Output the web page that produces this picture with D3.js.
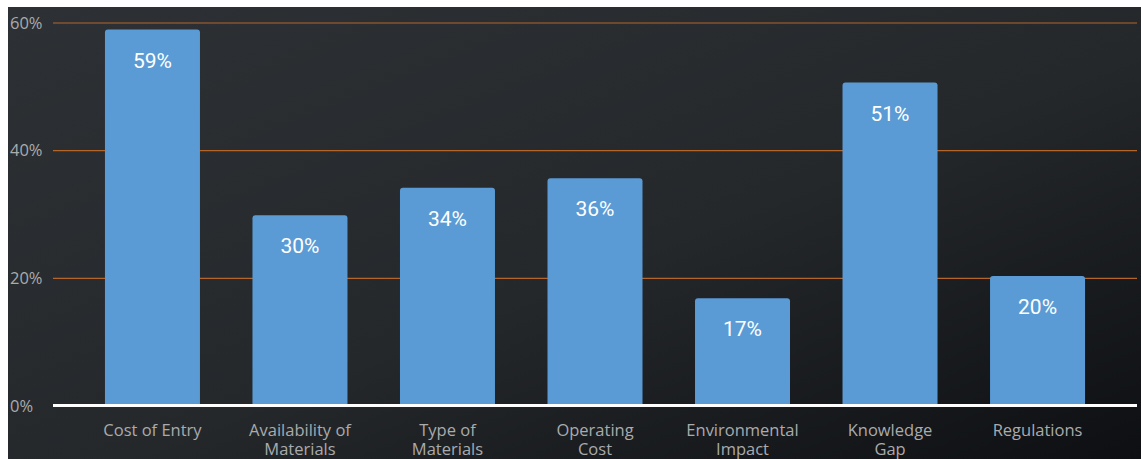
<!DOCTYPE html>
<html>
<head>
<meta charset="utf-8">
<script src="https://cdn.jsdelivr.net/npm/d3@7"></script>
<style>
  html, body { margin: 0; padding: 0; background: #ffffff; }
  svg { display: block; }
</style>
</head>
<body>
<svg id="chart" width="1141" height="459"></svg>
<script>
const categories = ["Cost of Entry", "Availability of Materials", "Type of Materials", "Operating Cost", "Environmental Impact", "Knowledge Gap", "Regulations"];
const values = [58.9, 29.8, 34.1, 35.6, 16.8, 50.6, 20.3];
const valueLabels = ["59%", "30%", "34%", "36%", "17%", "51%", "20%"];
const tickValues = [0, 20, 40, 60];
const tickLabels = ["0%", "20%", "40%", "60%"];

const W = 1141, H = 459;
const svg = d3.select("#chart");

const defs = svg.append("defs");
const grad = defs.append("linearGradient").attr("id", "bg")
  .attr("x1", "0").attr("y1", "0").attr("x2", "1").attr("y2", "1");
grad.append("stop").attr("offset", "0").attr("stop-color", "#2d3135");
grad.append("stop").attr("offset", "0.55").attr("stop-color", "#25282b");
grad.append("stop").attr("offset", "1").attr("stop-color", "#0d0f12");

svg.append("rect").attr("x", 8).attr("y", 7).attr("width", W - 8).attr("height", H - 7)
  .attr("fill", "url(#bg)");

const x = d3.scaleBand().domain(categories).range([79, 1111])
  .paddingInner(0.356).paddingOuter(0.176);
const y = d3.scaleLinear().domain([0, 60]).range([405.5, 22.5]);

const gridX0 = 53, gridX1 = 1137;

// grid lines
const yAxis = d3.axisLeft(y).tickValues(tickValues)
  .tickSize(-(gridX1 - gridX0)).tickFormat((d, i) => tickLabels[i]);
const gy = svg.append("g").attr("transform", `translate(${gridX0},0)`).call(yAxis);
gy.select(".domain").remove();
gy.selectAll(".tick line").attr("stroke", "#b4662a").attr("stroke-width", 1.2)
  .attr("display", d => d === 0 ? "none" : null);
gy.selectAll(".tick text")
  .attr("x", 10 - gridX0).attr("text-anchor", "start").attr("dy", "0.34em")
  .attr("fill", "#a9abad").style("font-family", "'Open Sans', sans-serif").style("font-size", "16.5px");

// bars with rounded top corners
function barPath(x0, y0, w, h, r) {
  return `M${x0},${y0 + h} V${y0 + r} Q${x0},${y0} ${x0 + r},${y0} H${x0 + w - r} Q${x0 + w},${y0} ${x0 + w},${y0 + r} V${y0 + h} Z`;
}
svg.append("g").selectAll("path").data(categories).join("path")
  .attr("d", (d, i) => barPath(x(d), y(values[i]), x.bandwidth(), y(0) - y(values[i]), 3))
  .attr("fill", "#5a9bd5");

// value labels
svg.append("g").selectAll("text").data(categories).join("text")
  .attr("x", d => x(d) + x.bandwidth() / 2)
  .attr("y", (d, i) => y(values[i]) + 38)
  .attr("text-anchor", "middle")
  .attr("fill", "#ffffff")
  .style("font-family", "Roboto, sans-serif").style("font-size", "21px")
  .text((d, i) => valueLabels[i]);

// baseline
svg.append("line").attr("x1", gridX0).attr("x2", gridX1)
  .attr("y1", y(0)).attr("y2", y(0))
  .attr("stroke", "#ffffff").attr("stroke-width", 3);

// x axis labels
const xAxis = d3.axisBottom(x).tickSize(0).tickPadding(0);
const gx = svg.append("g").attr("transform", `translate(0,${y(0)})`).call(xAxis);
gx.select(".domain").remove();
gx.selectAll(".tick text")
  .attr("fill", "#a9abad").style("font-family", "'Open Sans', sans-serif").style("font-size", "16.5px")
  .attr("y", 30.5).attr("dy", 0)
  .each(function (d) { wrap(d3.select(this), 106); });

function wrap(text, width) {
  const words = text.text().split(/\s+/);
  text.text(null);
  let line = [];
  let lineNo = 0;
  let tspan = text.append("tspan").attr("x", 0).attr("y", 30.5);
  for (const w of words) {
    line.push(w);
    tspan.text(line.join(" "));
    if (tspan.node().getComputedTextLength() > width && line.length > 1) {
      line.pop();
      tspan.text(line.join(" "));
      line = [w];
      lineNo++;
      tspan = text.append("tspan").attr("x", 0).attr("y", 30.5 + lineNo * 19).text(w);
    }
  }
}
</script>
</body>
</html>
